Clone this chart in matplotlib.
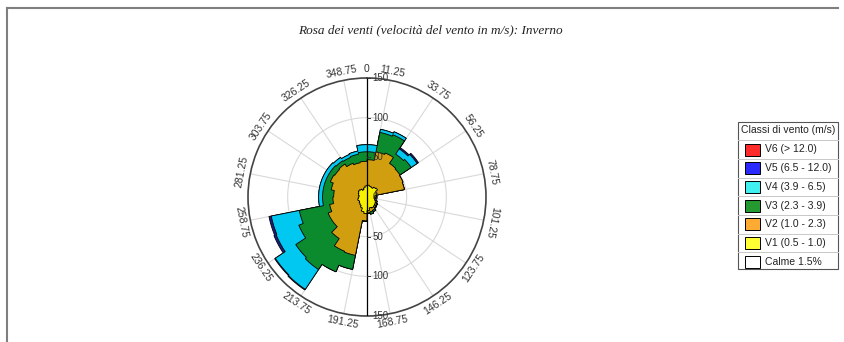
import numpy as np
import matplotlib
matplotlib.use("Agg")
import matplotlib.pyplot as plt
from matplotlib.lines import Line2D
from matplotlib.patches import Rectangle

plt.rcParams['font.family'] = ['Liberation Sans', 'DejaVu Sans']

TITLE = "Rosa dei venti (velocità del vento in m/s): Inverno"

# 32 direction sectors of 11.25 deg, from north, clockwise
SECTOR = 11.25
sector_start = np.arange(32) * SECTOR

# frequency per speed class and sector
v1 = [15, 14, 13, 15, 16, 13, 12, 10, 9, 10, 12, 13, 14, 15, 14, 17,
      21, 19, 15, 13, 12, 11, 12, 11, 10, 11, 12, 13, 12, 10, 12, 14]
v2 = [32, 44, 47, 36, 34, 36, 36, 2, 2, 2, 2, 2, 2, 3, 5, 3,
      9, 56, 59, 50, 41, 42, 36, 32, 32, 35, 38, 36, 38, 36, 32, 31]
v3 = [10, 25, 25, 14, 17, 0, 0, 0, 0, 0, 0, 1, 1, 2, 3, 1,
      1, 18, 28, 47, 55, 40, 39, 13, 14, 10, 6, 7, 5, 8, 11, 12]
v4 = [9, 4, 4, 8, 9, 0, 0, 0, 0, 0, 0, 0, 0, 0, 0, 0,
      0, 0, 0, 30, 31, 31, 36, 5, 5, 5, 5, 5, 5, 4, 4, 9]
v5 = [0, 0, 0, 2, 2, 0, 0, 0, 0, 0, 0, 0, 0, 0, 0, 0,
      0, 0, 0, 1, 1, 3, 3, 0, 0, 0, 0, 0, 0, 0, 0, 0]
v6 = [0] * 32

class_labels = ["V6 (> 12.0)", "V5 (6.5 - 12.0)", "V4 (3.9 - 6.5)",
                "V3 (2.3 - 3.9)", "V2 (1.0 - 2.3)", "V1 (0.5 - 1.0)"]
calm_label = "Calme 1.5%"
legend_title = "Classi di vento (m/s)"

# fill colours inside the rose and swatch colours in the legend
rose_colors = ["#e02020", "#1c1c8a", "#00c8f0", "#0b8a2e", "#d19e0f", "#f7ef00"]
swatch_colors = ["#ff2a2a", "#2a2aff", "#40f0f0", "#23992f", "#ffaa33", "#ffff33"]

grid_angles = [11.25 + 22.5 * k for k in range(16)]
angle_labels = ["0"] + [f"{a:.2f}" for a in grid_angles]
label_angles = [0.0] + grid_angles
radial_ticks = [50, 100, 150]
R_MAX = 150

fig = plt.figure(figsize=(8.44, 3.42), dpi=100)
fig.patch.set_facecolor("white")

W, H = 844.0, 342.0
cx, cy, rad = 367.0, 197.0, 119.0
rect = [(cx - rad) / W, (H - cy - rad) / H, 2 * rad / W, 2 * rad / H]

ax = fig.add_axes(rect, projection="polar")
ax.set_theta_zero_location("N")
ax.set_theta_direction(-1)
ax.set_ylim(0, R_MAX)
ax.grid(False)
ax.set_xticks([])
ax.set_yticks([])
ax.spines["polar"].set_color("#444444")
ax.spines["polar"].set_linewidth(1.2)

# light grid: radial lines at sector boundaries and circles
for a in grid_angles:
    ax.plot([np.deg2rad(a)] * 2, [0, R_MAX], color="#d9d9d9", lw=0.8, zorder=1)
circ = np.linspace(0, 2 * np.pi, 361)
for r in radial_ticks[:-1]:
    ax.plot(circ, [r] * len(circ), color="#d9d9d9", lw=0.8, zorder=1)


def profile(radii, steps=10):
    th, rr = [], []
    for s, r in zip(sector_start, radii):
        t = np.linspace(s, s + SECTOR, steps)
        th.extend(np.deg2rad(t))
        rr.extend([r] * steps)
    return np.array(th), np.array(rr)


classes = [v1, v2, v3, v4, v5, v6]
cum = np.cumsum(np.array(classes, dtype=float), axis=0)
# draw from the outermost class inwards so each inner one covers the rest
for i in range(len(classes) - 1, -1, -1):
    if np.sum(classes[i]) == 0:
        continue
    th, rr = profile(cum[i])
    ax.fill(th, rr, facecolor=rose_colors[5 - i], edgecolor="black",
            lw=0.6, zorder=2 + (5 - i))

# overlay for the vertical axis, its ticks and the direction labels
ax2 = fig.add_axes(rect)
ax2.set_xlim(-R_MAX, R_MAX)
ax2.set_ylim(-R_MAX, R_MAX)
ax2.axis("off")
ax2.plot([0, 0], [-R_MAX, R_MAX], color="black", lw=0.9)
tick_kw = dict(fontsize=7, color="#333333", va="center", ha="left")
for v in radial_ticks:
    for sgn in (1, -1):
        ax2.plot([0, 4], [sgn * v, sgn * v], color="#333333", lw=0.7)
        ax2.text(7, sgn * v, str(v), **tick_kw)
ax2.text(7, 0, "0", **tick_kw)

r_lab = 161
for a, lab in zip(label_angles, angle_labels):
    if a <= 101.25:
        rot = -a
    elif a < 270:
        rot = 180 - a
    else:
        rot = 360 - a
    x = r_lab * np.sin(np.deg2rad(a))
    y = r_lab * np.cos(np.deg2rad(a))
    ax2.text(x, y, lab, rotation=rot, rotation_mode="anchor", ha="center",
             va="center", fontsize=7.5, color="#333333", clip_on=False)

fig.text(430 / W, 1 - 30 / H, TITLE, ha="center", va="center",
         fontsize=9.5, style="italic", family="Liberation Serif",
         color="#222222")

# frame lines along the top and left
fig.add_artist(Line2D([7 / W, 838 / W], [1 - 8 / H] * 2, transform=fig.transFigure,
                      color="#7f7f7f", lw=1.5))
fig.add_artist(Line2D([7 / W] * 2, [0, 1 - 8 / H], transform=fig.transFigure,
                      color="#7f7f7f", lw=1.5))

# legend table
lx0, lx1, ly0, ly1 = 738.0, 839.0, 122.0, 270.0
lg = fig.add_axes([lx0 / W, (H - ly1) / H, (lx1 - lx0) / W, (ly1 - ly0) / H])
lg.set_xlim(0, lx1 - lx0)
lg.set_ylim(ly1 - ly0, 0)
lg.axis("off")
lw_, lh_ = lx1 - lx0, ly1 - ly0
lg.add_patch(Rectangle((1.5, 1.5), lw_ - 1.5, lh_ - 1.5, facecolor="#9a9a9a",
                       edgecolor="none", clip_on=False))
lg.add_patch(Rectangle((0, 0), lw_ - 1.5, lh_ - 1.5, facecolor="white",
                       edgecolor="#555555", lw=0.8, clip_on=False))
lg.text((lw_ - 1.5) / 2, 8, legend_title, ha="center", va="center",
        fontsize=7.5, color="#222222")
row_h = 18.7
rows = list(zip(class_labels, swatch_colors)) + [(calm_label, "white")]
for k, (lab, col) in enumerate(rows):
    yc = 27.5 + k * row_h
    top = yc - row_h / 2
    lg.plot([0, lw_ - 1.5], [top, top], color="#c8c8c8", lw=0.7)
    lg.add_patch(Rectangle((7, yc - 6), 15, 12, facecolor=col,
                           edgecolor="black", lw=0.7))
    lg.text(27, yc, lab, ha="left", va="center", fontsize=7.5, color="#222222")

fig.savefig("out.png", dpi=100, facecolor="white")
